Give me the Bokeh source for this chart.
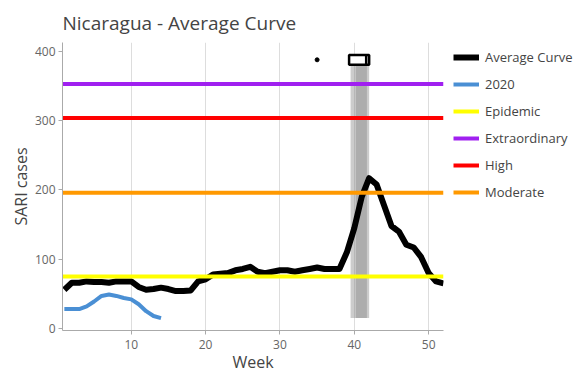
from bokeh.plotting import figure
from bokeh.models import Range1d, Legend, LegendItem, FixedTicker
from bokeh.embed import file_html
from bokeh.resources import INLINE

weeks = list(range(1, 53))
avg_curve = [56, 66, 66, 68, 67, 67, 66, 68, 68, 68,
             60, 56, 57, 59, 57, 54, 54, 55, 68, 71,
             78, 79, 80, 84, 86, 89, 82, 80, 82, 84,
             84, 82, 84, 86, 88, 86, 86, 86, 110, 145,
             190, 217, 208, 178, 148, 140, 121, 117, 103, 80,
             68, 65]
weeks_2020 = list(range(1, 15))
cases_2020 = [28, 28, 28, 32, 39, 47, 49, 47, 44, 42, 35, 25, 18, 15]

threshold_names = ["Epidemic", "Extraordinary", "High", "Moderate"]
threshold_values = [75, 353, 304, 196]
threshold_colors = ["#FFFF00", "#A020F0", "#FF0000", "#FF9900"]

# peak-week distribution (box) and shaded band
box_q1 = [39.3]
box_median = [41.6]
box_q3 = [42.0]
box_level = [388]
outlier_week = [35]
band_left = [39.5, 40.2]
band_right = [41.7, 42.0]
band_bottom = [15, 15]
band_top = [382, 382]

FONT = "Open Sans"

p = figure(frame_width=381, frame_height=288, output_backend="svg", toolbar_location=None,
           x_range=Range1d(0.75, 52), y_range=Range1d(-2.9, 413),
           min_border_left=62, min_border_right=134, min_border_top=42,
           min_border_bottom=34)
p.outline_line_color = None
p.background_fill_color = "white"

p.title.text = "Nicaragua - Average Curve"
p.title.text_font = FONT
p.title.text_font_size = "19px"
p.title.text_font_style = "normal"
p.title.text_color = "#444444"
p.title.standoff = 14

p.quad(left=band_left, right=band_right, bottom=band_bottom, top=band_top,
       fill_color="#808080", fill_alpha=0.4, line_color=None)

items = []
r_avg = p.line(weeks, avg_curve, line_color="black", line_width=6, line_join="round")
r_2020 = p.line(weeks_2020, cases_2020, line_color="#4A8FD4", line_width=4, line_join="round")
items.append(LegendItem(label="Average Curve", renderers=[r_avg]))
items.append(LegendItem(label="2020", renderers=[r_2020]))
for name, val, col in zip(threshold_names, threshold_values, threshold_colors):
    r = p.line([0.75, 52], [val, val], line_color=col, line_width=4)
    items.append(LegendItem(label=name, renderers=[r]))

half = 7
p.quad(left=box_q1, right=box_q3, bottom=[b - half for b in box_level],
       top=[b + half for b in box_level], fill_color="white", line_color="black", line_width=2.5)
p.segment(x0=box_median, x1=box_median, y0=[b - half for b in box_level],
          y1=[b + half for b in box_level], line_color="black", line_width=2.5)
p.scatter(outlier_week, box_level, size=4, color="black")

p.xgrid.ticker = FixedTicker(ticks=[10, 20, 30, 40, 50])
p.xaxis.ticker = FixedTicker(ticks=[10, 20, 30, 40, 50])
p.yaxis.ticker = FixedTicker(ticks=[0, 100, 200, 300, 400])
p.ygrid.grid_line_color = None
p.xgrid.grid_line_color = "#DDDDDD"
p.xgrid.grid_line_width = 1

for ax in (p.xaxis, p.yaxis):
    ax.axis_line_color = "#AAAAAA"
    ax.major_tick_line_color = "#AAAAAA"
    ax.minor_tick_line_color = None
    ax.major_tick_out = 4
    ax.major_tick_in = 0
    ax.major_label_text_font = FONT
    ax.major_label_text_font_size = "12px"
    ax.major_label_text_color = "#666666"
    ax.major_label_standoff = 3
    ax.axis_label_text_font = FONT
    ax.axis_label_text_font_size = "16px"
    ax.axis_label_text_font_style = "normal"
    ax.axis_label_text_color = "#444444"
p.xaxis.major_label_standoff = 5
p.xaxis.axis_label = "Week"
p.yaxis.axis_label = "SARI cases"
p.xaxis.axis_label_standoff = -1
p.yaxis.axis_label_standoff = 0

legend = Legend(items=items, location=(10, 128))
legend.margin = 0
legend.padding = 7
legend.border_line_color = None
legend.background_fill_alpha = 0
legend.label_text_font = FONT
legend.label_text_font_size = "13px"
legend.label_text_color = "#444444"
legend.glyph_width = 26
legend.glyph_height = 20
legend.label_height = 20
legend.spacing = 7
legend.label_standoff = 6
p.add_layout(legend, "right")

open("out.html", "w").write(file_html(p, INLINE))
